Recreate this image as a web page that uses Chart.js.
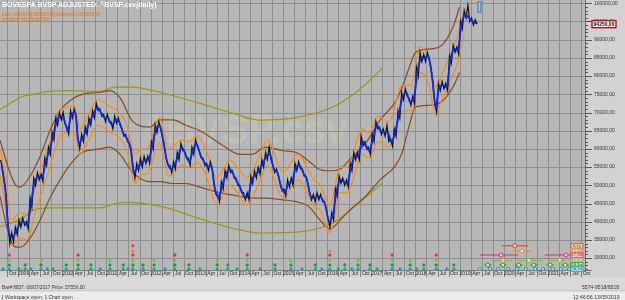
<!DOCTYPE html>
<html>
<head>
<meta charset="utf-8">
<script src="https://cdn.jsdelivr.net/npm/chart.js@4.4.1/dist/chart.umd.min.js"></script>
<style>
  html, body { margin: 0; padding: 0; background: #b7b7b7; }
  #wrap { position: relative; width: 625px; height: 300px; overflow: hidden; }
  #chart { position: absolute; left: 0; top: 0; }
  .t { position: absolute; white-space: nowrap; font-family: "Liberation Sans", Arial, sans-serif; }
</style>
</head>
<body>
<div id="wrap">
  <canvas id="chart" width="625" height="300"></canvas>
  <div class="t" data-w="155" style="left:2px;top:1px;font-size:7.5px;line-height:8px;font-weight:bold;color:#fff">BOVESPA BVSP ADJUSTED: ^BVSP.csv(daily)</div>
  <div class="t" data-w="98" style="left:2px;top:12.5px;font-size:4.5px;line-height:4.5px;font-weight:bold;color:#f07a18">Last: 94250,00[10/05/2019] Analysis: [13/05/2019]</div>
  <div class="t" data-w="48" style="left:2px;top:18px;font-size:4.5px;line-height:4.5px;font-weight:bold;color:#f07a18">Volatility:446,29 (0,47%)</div>
  <div class="t" data-w="83" style="left:2px;top:284px;font-size:5.5px;line-height:6px;color:#333">Bar# 8837: 06/07/2017 Price: 57550,00</div>
  <div class="t" data-w="72" style="left:1px;top:294px;font-size:5.5px;line-height:6px;color:#333">1 Workspace open; 1 Chart open</div>
  <div class="t r" data-w="37" style="right:6px;top:284px;font-size:5.5px;line-height:6px;color:#333">5574-9518/9518</div>
  <div class="t r" data-w="46" style="right:6px;top:294px;font-size:5.5px;line-height:6px;color:#333">12:46:56 13/05/2019</div>
</div>
<script>
// ---- data ----
const firstMonth = 2008 + 7 / 12;   // Aug 2008
const lastPrice = 94250;

// smoothed price (blue), one value per month Aug 2008 .. May 2019
const blueClose = [
  55500, 49000, 37000, 35500, 37500,
  39500, 40000, 39000, 45000, 51000, 52500, 52000, 56500, 59500, 63500, 67500, 69000,
  68000, 65000, 69500, 70000, 61500, 63000, 65000, 67500, 69500, 71500, 70000, 68500,
  68500, 66500, 68000, 67500, 64500, 63000, 60500, 53500, 55000, 56000, 57000, 57000,
  61000, 65500, 66500, 62000, 56500, 54500, 55500, 58000, 60500, 58500, 56500, 59500,
  61500, 58500, 56500, 55000, 55500, 49000, 46500, 50000, 53000, 54500, 53000, 51000,
  49000, 47000, 47000, 51500, 53000, 54000, 56000, 58000, 58500, 54500, 53500, 49500,
  48000, 50500, 51000, 55000, 55500, 53500, 51500, 47000, 46500, 47000, 46500, 44500,
  40000, 41500, 48000, 51500, 51000, 50500, 55000, 58000, 58000, 62000, 61000, 59500,
  63000, 66500, 65000, 64500, 64500, 61800, 64500, 69500, 74500, 75500, 73000, 73500,
  81000, 85000, 85000, 85500, 80000, 71500, 77000, 77500, 77000, 84500, 87500, 87000,
  94000, 97000, 96000, 95000, 94500
];

// daily bars (black), two swings per month: high half, low half
const blackSwing = [
  57000, 54500, 51000, 47000, 39500, 34000, 37000, 34500, 38500, 36500,
  40500, 38500, 41000, 39000, 40000, 38000, 46500, 44000, 52000, 50000, 53500, 51500, 53000, 51000, 57500, 55500, 60500, 58500, 64500, 62500, 68500, 66500, 70000, 68000,
  70000, 67000, 66000, 64000, 70500, 68500, 71000, 69000, 63000, 60000, 64000, 62000, 66000, 64000, 68500, 66500, 70500, 68500, 72500, 70500, 71000, 69000, 69500, 67500,
  69500, 67500, 67500, 65500, 69000, 67000, 68500, 66500, 65500, 63500, 64000, 62000, 61500, 59500, 55000, 52000, 56000, 54000, 57500, 55000, 58000, 56000, 58000, 56000,
  62000, 60000, 66500, 64500, 67500, 65500, 63000, 61000, 57500, 55500, 55500, 53500, 56500, 54500, 59000, 57000, 61500, 59500, 59500, 57500, 57500, 55500, 60500, 58500,
  62500, 60500, 59500, 57500, 57500, 55500, 56000, 54000, 56500, 54500, 50500, 47500, 47500, 45500, 51000, 49000, 54000, 52000, 55500, 53500, 54000, 52000, 52000, 50000,
  50000, 48000, 48000, 46000, 48000, 46000, 52500, 50500, 54000, 52000, 55000, 53000, 57000, 55000, 59000, 57000, 60500, 57000, 55500, 53500, 54500, 52500, 50500, 48500,
  49000, 47000, 51500, 49500, 52000, 50000, 56000, 54000, 56500, 54500, 54500, 52500, 52500, 50500, 48000, 46000, 47500, 45500, 48000, 46000, 47500, 45500, 45500, 43500,
  41000, 38500, 42500, 40500, 49000, 47000, 52500, 50500, 52000, 50000, 51500, 49500, 56000, 54000, 59000, 57000, 59000, 57000, 63500, 61000, 62000, 60000, 60500, 58500,
  64000, 62000, 67500, 65500, 66000, 64000, 65500, 63500, 66500, 62000, 62800, 60800, 65500, 63500, 70500, 68500, 75500, 73500, 76500, 74500, 74000, 72000, 74500, 72500,
  82500, 80000, 86500, 84000, 86000, 84000, 86500, 84500, 82000, 78000, 72500, 70000, 78000, 76000, 78500, 76500, 78000, 76000, 85500, 83500, 88500, 86500, 88000, 86000,
  95000, 93000, 98000, 96000, 99500, 95000, 96000, 94000, 95500, 94250
];

// orange envelope
const orangeT = [2008.59, 2008.72, 2008.85, 2009.05, 2009.2, 2009.4, 2009.55, 2009.7, 2009.95, 2010.1, 2010.27, 2010.4, 2010.6, 2010.8, 2011.1, 2011.25, 2011.45, 2011.65, 2011.8, 2011.92, 2012.2, 2012.42, 2012.7, 2012.88, 2013.05, 2013.25, 2013.5, 2013.8, 2014.0, 2014.18, 2014.45, 2014.65, 2015.0, 2015.33, 2015.7, 2015.85, 2016.06, 2016.3, 2016.45, 2016.8, 2016.95, 2017.15, 2017.4, 2017.7, 2017.9, 2018.1, 2018.3, 2018.45, 2018.6, 2018.8, 2018.95, 2019.1];
const orangeUp = [60000, 52000, 40500, 42500, 42000, 50000, 55500, 61000, 70500, 71500, 72000, 65500, 69500, 73500, 71500, 70500, 67000, 58500, 60000, 60000, 68500, 60000, 62500, 62000, 63500, 60000, 52000, 57000, 54500, 52000, 57500, 62500, 53500, 58500, 51500, 50000, 44500, 55000, 55000, 65500, 64500, 69000, 67500, 77500, 77500, 88000, 85000, 77000, 80500, 86000, 90500, 98000];
const orangeLo = [53000, 44000, 33500, 35500, 35000, 43000, 48500, 54000, 63500, 64500, 65000, 58500, 62500, 66500, 64500, 63500, 60000, 50500, 53000, 53000, 61500, 52500, 55500, 55000, 56500, 53000, 45000, 50000, 47500, 44500, 50500, 55500, 46500, 51500, 44500, 43000, 37000, 48000, 48000, 58500, 57500, 62000, 60500, 70500, 70500, 81000, 78000, 69500, 73500, 79000, 83500, 91500];

// brown envelope
const brownT = [2008.59, 2008.8, 2008.95, 2009.05, 2009.27, 2009.5, 2009.72, 2009.95, 2010.2, 2010.45, 2010.85, 2011.08, 2011.31, 2011.6, 2011.99, 2012.21, 2012.51, 2012.8, 2013.12, 2013.57, 2014.02, 2014.3, 2014.6, 2015.0, 2015.3, 2015.6, 2015.8, 2016.06, 2016.3, 2016.5, 2016.87, 2017.2, 2017.55, 2017.7, 2017.85, 2018.0, 2018.35, 2018.6, 2018.85, 2019.0];
const brownUp = [62400, 54000, 50000, 49500, 52500, 58000, 65000, 70500, 73500, 75000, 75500, 76000, 74000, 67500, 66000, 68000, 68000, 66500, 65000, 61500, 58500, 58500, 60500, 59500, 59000, 56500, 54500, 54000, 54500, 57000, 61500, 68000, 73000, 77000, 82000, 86500, 87500, 88500, 93500, 99000];
const brownLo = [47000, 36000, 33000, 33000, 35500, 40500, 46500, 51500, 56000, 59000, 60000, 60500, 58500, 53500, 51000, 51000, 50500, 50500, 49500, 48000, 47000, 46500, 46500, 46000, 45500, 44000, 41000, 38000, 40500, 43000, 47000, 51500, 55500, 59000, 66000, 71500, 72000, 73000, 77000, 81000];

// olive envelope
const oliveT = [2008.59, 2009.1, 2009.34, 2009.72, 2010.1, 2010.85, 2011.2, 2011.55, 2012.3, 2013.12, 2013.86, 2014.47, 2015.38, 2016.13, 2016.65, 2016.9, 2017.25];
const oliveUp = [70800, 74400, 75000, 75800, 76000, 75800, 77000, 77000, 75300, 72500, 69800, 67900, 68800, 71500, 75500, 78100, 82200];
const oliveLo = [38600, 41000, 43200, 43800, 43800, 43800, 45000, 45300, 44000, 40800, 38200, 36900, 37200, 39700, 44500, 47000, 50600];

// cycle rows (bottom strip): level, colour, label
const cycleLabels = ['9,1y', '53,7M', '17,7M', '33,6w', '18,3w', '74,5d'];
const cycleLevels = [33390, 31960, 30860, 29350, 28110, 27010];
const cycleColors = ['#e0401e', '#f08a1c', '#f0207f', '#7cc51c', '#1f9a3c', '#10a5a5'];

// past cycle troughs per row
const troughRed = [2011.60];
const troughOrange = [2011.60, 2016.06];
const troughPink = [2008.80, 2010.36, 2011.60, 2012.55, 2014.19, 2016.06, 2017.47, 2018.47];
const troughGreen = [2008.80, 2009.52, 2010.36, 2011.08, 2011.60, 2012.08, 2012.55, 2013.51, 2014.19, 2015.18, 2016.06, 2016.70, 2017.47, 2017.88, 2018.47];
const troughGreen2 = [2008.80, 2009.16, 2009.52, 2010.09, 2010.36, 2010.65, 2011.08, 2011.38, 2011.60, 2011.83, 2012.08, 2012.55, 2012.87, 2013.51, 2013.75, 2014.19, 2014.82, 2015.18, 2015.73, 2016.06, 2016.40, 2016.70, 2016.97, 2017.47, 2017.88, 2018.19, 2018.47, 2018.87];
const troughTeal = [2008.66, 2008.80, 2009.02, 2009.16, 2009.29, 2009.52, 2009.66, 2009.79, 2010.09, 2010.36, 2010.65, 2010.86, 2011.08, 2011.38, 2011.49, 2011.60, 2011.83, 2012.08, 2012.33, 2012.55, 2012.87, 2013.12, 2013.51, 2013.75, 2013.96, 2014.19, 2014.48, 2014.82, 2015.18, 2015.43, 2015.73, 2015.88, 2016.06, 2016.25, 2016.40, 2016.56, 2016.70, 2016.97, 2017.13, 2017.47, 2017.65, 2017.88, 2018.03, 2018.19, 2018.47, 2018.71, 2018.87];

// projected troughs: [from, expected, to]
const projRed = [[2019.96, 2020.25, 2020.55]];
const projOrange = [[2020.19, 2020.41, 2020.64]];
const projPink = [[2019.46, 2019.94, 2020.32], [2020.93, 2021.41, 2021.50]];
const projGreen = [[2019.73, 2019.98, 2020.19], [2020.32, 2020.57, 2020.87], [2021.00, 2021.27, 2021.39]];
const projGreen2 = [[2019.56, 2019.64, 2019.72], [2019.90, 2019.98, 2020.06], [2020.26, 2020.34, 2020.42], [2020.60, 2020.68, 2020.76], [2020.97, 2021.05, 2021.13], [2021.31, 2021.39, 2021.47]];
const projTeal = [2019.46, 2019.69, 2019.87, 2020.10, 2020.30, 2020.50, 2020.71, 2020.89, 2021.11, 2021.30, 2021.48];

const yTicks = [30000, 35000, 40000, 45000, 50000, 55000, 60000, 65000, 70000, 75000, 80000, 85000, 90000, 95000, 100000];
const quarterNames = ['', 'Apr', 'Jul', 'Oct'];
const firstYear = 2008, lastYear = 2021;

// ---- build datasets ----
const pts = (ts, vs) => ts.map((t, i) => ({ x: t, y: vs[i] }));

const bluePts = blueClose.map((v, i) => ({ x: firstMonth + (i + 0.5) / 12, y: v }));
const blackPts = blackSwing.map((v, i) => ({ x: firstMonth + (i + 0.5) / 24, y: v }));

function bandLine(ts, vs, color, order) {
  return { data: pts(ts, vs), borderColor: color, borderWidth: 1.2, pointRadius: 0,
           cubicInterpolationMode: 'monotone', fill: false, order: order };
}
function marks(ts, row) {
  return { data: ts.map(t => ({ x: t, y: cycleLevels[row] })), showLine: false,
           pointStyle: 'rectRot', pointRadius: 1.9, pointBorderWidth: 0,
           pointBackgroundColor: cycleColors[row], order: 0 };
}
function proj(r, row) {
  return { data: r.map(t => ({ x: t, y: cycleLevels[row] })), borderColor: cycleColors[row],
           borderWidth: 1, pointRadius: [0, 2, 0], pointBorderWidth: 1,
           pointBorderColor: cycleColors[row], pointBackgroundColor: '#dedede', order: 0 };
}

const datasets = [
  { data: bluePts, borderColor: '#0a2ce6', borderWidth: 1.8, pointRadius: 0, tension: 0.3, order: 1 },
  { data: blackPts, borderColor: '#111111', borderWidth: 1.2, pointRadius: 0, tension: 0, order: 2 },
  bandLine(orangeT, orangeUp, '#ff8a10', 3), bandLine(orangeT, orangeLo, '#ff8a10', 3),
  bandLine(brownT, brownUp, '#8a4a1c', 4), bandLine(brownT, brownLo, '#8a4a1c', 4),
  bandLine(oliveT, oliveUp, '#9c9614', 5), bandLine(oliveT, oliveLo, '#9c9614', 5),
  marks(troughRed, 0), marks(troughOrange, 1), marks(troughPink, 2),
  marks(troughGreen, 3), marks(troughGreen2, 4), marks(troughTeal, 5),
  ...projRed.map(r => proj(r, 0)), ...projOrange.map(r => proj(r, 1)),
  ...projPink.map(r => proj(r, 2)), ...projGreen.map(r => proj(r, 3)),
  ...projGreen2.map(r => proj(r, 4)),
  { data: projTeal.map(t => ({ x: t, y: cycleLevels[5] })), showLine: false, pointRadius: 1.6,
    pointBorderWidth: 1, pointBorderColor: cycleColors[5], pointBackgroundColor: '#d8d8d8', order: 0 }
];

// ---- frame, grid and axes drawn around the plot ----
const frame = {
  id: 'frame',
  beforeDatasetsDraw(chart) {
    const { ctx, chartArea: a, scales: { x, y } } = chart;
    ctx.save();
    ctx.fillStyle = '#b7b7b7';
    ctx.fillRect(0, 0, 625, 300);
    ctx.fillStyle = '#d2d2d2';
    ctx.fillRect(a.right, 0, 625 - a.right, a.bottom + 7);
    ctx.fillStyle = '#d9d9d9';
    ctx.fillRect(0, a.bottom + 7, 625, 14);
    ctx.fillStyle = '#ececec';
    ctx.fillRect(0, a.bottom + 21, 625, 10);
    ctx.fillStyle = '#bdbdbd';
    ctx.fillRect(0, a.bottom + 20.5, 625, 0.8);

    // watermark
    ctx.font = 'bold 40px "Liberation Sans", Arial';
    ctx.fillStyle = 'rgba(226,226,160,0.24)';
    ctx.fillText('^BVSP.csv', 143, 143);

    ctx.strokeStyle = '#8e8e8e';
    ctx.lineWidth = 1;
    ctx.beginPath();
    for (const v of yTicks) {
      const py = Math.round(y.getPixelForValue(v)) + 0.5;
      ctx.moveTo(a.left, py); ctx.lineTo(a.right, py);
    }
    for (let yr = firstYear; yr <= lastYear; yr++) {
      for (let q = 0; q < 4; q++) {
        const px = Math.round(x.getPixelForValue(yr + q / 4)) + 0.5;
        if (px < a.left || px > a.right) continue;
        ctx.moveTo(px, a.top); ctx.lineTo(px, a.bottom);
      }
    }
    ctx.stroke();
    ctx.restore();
  },
  afterDraw(chart) {
    const { ctx, chartArea: a, scales: { x, y } } = chart;
    ctx.save();
    // time strip
    const stripTop = a.bottom, stripH = 7, stripRight = 592;
    ctx.fillStyle = '#d4d4d4';
    ctx.fillRect(0, stripTop, stripRight, stripH);
    ctx.strokeStyle = '#7c7c7c';
    ctx.lineWidth = 1;
    ctx.font = '5px "Liberation Sans", Arial';
    ctx.textAlign = 'center';
    ctx.textBaseline = 'middle';
    for (let yr = firstYear; yr <= lastYear; yr++) {
      for (let q = 0; q < 4; q++) {
        const x0 = x.getPixelForValue(yr + q / 4), x1 = x.getPixelForValue(yr + (q + 1) / 4);
        if (x1 < 0 || x0 > stripRight) continue;
        const px = Math.round(x0) + 0.5;
        ctx.beginPath(); ctx.moveTo(px, stripTop); ctx.lineTo(px, stripTop + stripH); ctx.stroke();
        const mid = (x0 + x1) / 2;
        if (mid > 3 && mid < stripRight - 2) {
          ctx.fillStyle = '#1e1e1e';
          ctx.fillText(q === 0 ? String(yr) : quarterNames[q], mid, stripTop + 3.7);
        }
      }
    }
    ctx.beginPath(); ctx.moveTo(0, stripTop + 0.5); ctx.lineTo(stripRight, stripTop + 0.5); ctx.stroke();

    // right axis line, minor/major ticks and labels
    ctx.strokeStyle = '#6e6e6e';
    ctx.beginPath(); ctx.moveTo(a.right + 0.5, 0); ctx.lineTo(a.right + 0.5, a.bottom); ctx.stroke();
    ctx.strokeStyle = '#555';
    ctx.beginPath();
    for (let v = 27000; v <= 100000; v += 1000) {
      const py = Math.round(y.getPixelForValue(v)) + 0.5;
      ctx.moveTo(a.right, py); ctx.lineTo(a.right + (v % 5000 === 0 ? 7 : 3), py);
    }
    ctx.stroke();
    ctx.textAlign = 'left';
    ctx.fillStyle = '#333';
    ctx.font = '5px "Liberation Sans", Arial';
    for (const v of yTicks) {
      ctx.fillText(v.toFixed(2).replace('.', ','), a.right + 9, y.getPixelForValue(v));
    }

    // last price box
    const lp = y.getPixelForValue(lastPrice);
    ctx.fillStyle = '#f4f4f4';
    ctx.fillRect(a.right + 7, lp - 3.5, 24, 7);
    ctx.strokeStyle = '#c80000';
    ctx.lineWidth = 1.3;
    ctx.strokeRect(a.right + 7, lp - 3.5, 24, 7);
    ctx.fillStyle = '#111';
    ctx.font = 'bold 5px "Liberation Sans", Arial';
    ctx.textAlign = 'center';
    ctx.fillText(lastPrice.toFixed(2).replace('.', ','), a.right + 19, lp + 0.3);

    // last-bar marker
    const bx = x.getPixelForValue(2019.45);
    const bt = y.getPixelForValue(100400), bb = y.getPixelForValue(97600);
    ctx.fillStyle = '#a8c6ec';
    ctx.fillRect(bx - 1.5, bt, 3, bb - bt);
    ctx.strokeStyle = '#2a52c8';
    ctx.lineWidth = 0.8;
    ctx.strokeRect(bx - 1.5, bt, 3, bb - bt);

    // cycle length tags
    ctx.font = 'bold 4px "Liberation Sans", Arial';
    cycleLabels.forEach((lab, i) => {
      const py = y.getPixelForValue(cycleLevels[i]);
      ctx.fillStyle = 'rgba(214,214,214,0.95)';
      ctx.fillRect(571, py - 2.3, 12, 4.6);
      ctx.strokeStyle = cycleColors[i];
      ctx.lineWidth = 0.7;
      ctx.strokeRect(571, py - 2.3, 12, 4.6);
      ctx.fillStyle = cycleColors[i];
      ctx.fillText(lab, 577, py + 0.2);
    });
    ctx.restore();
  }
};

new Chart(document.getElementById('chart'), {
  type: 'line',
  data: { datasets },
  options: {
    responsive: false,
    animation: false,
    events: [],
    layout: { padding: { left: 0, right: 40, top: 0, bottom: 30 }, autoPadding: false },
    plugins: { legend: { display: false }, tooltip: { enabled: false } },
    scales: {
      x: { type: 'linear', min: 2008.59, max: 2021.84, display: false },
      y: { type: 'linear', min: 26737, max: 100906, display: false }
    }
  },
  plugins: [frame]
});

document.querySelectorAll('.t').forEach(el => {
  const k = (+el.dataset.w) / el.offsetWidth;
  el.style.transformOrigin = el.classList.contains('r') ? 'right center' : 'left center';
  el.style.transform = 'scaleX(' + k + ')';
});
</script>
</body>
</html>
